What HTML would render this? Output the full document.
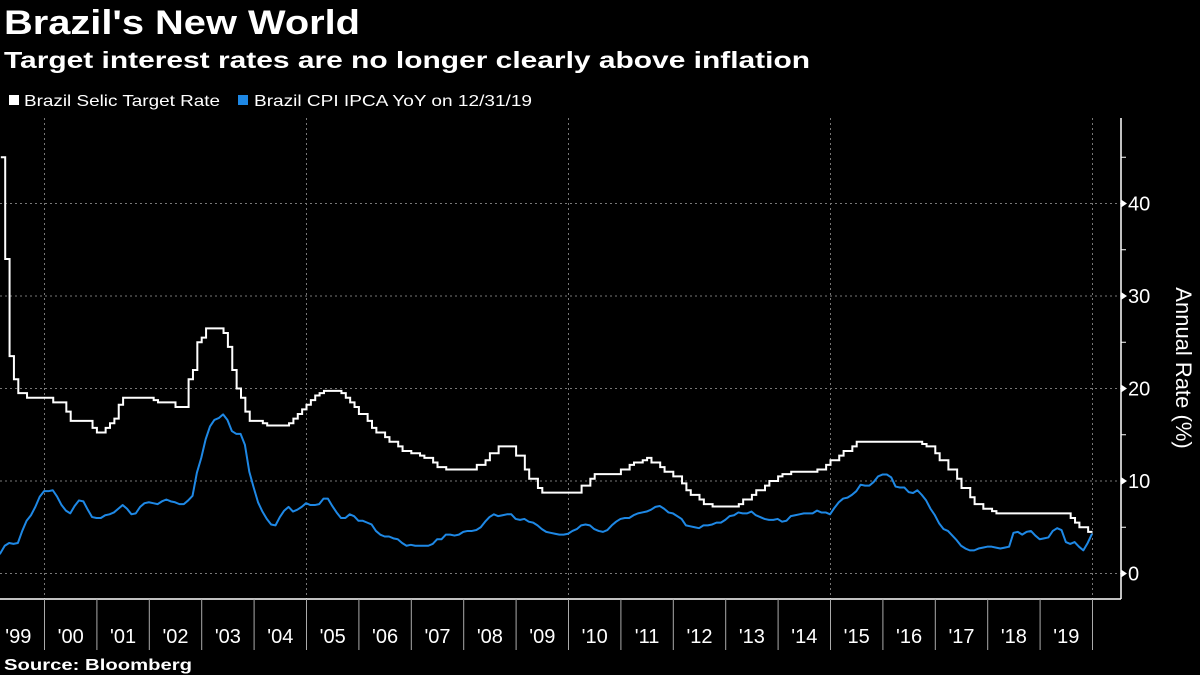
<!DOCTYPE html>
<html><head><meta charset="utf-8"><style>
body{margin:0;background:#000;width:1200px;height:675px;overflow:hidden;font-family:"Liberation Sans",sans-serif;color:#fff}
svg{position:absolute;left:0;top:0}
</style></head><body>
<svg id="c" width="1200" height="675">
<text x="4" y="34" font-size="34" font-weight="bold" fill="#fff" textLength="356" lengthAdjust="spacingAndGlyphs">Brazil's New World</text>
<text x="4" y="68" font-size="23" font-weight="bold" fill="#fff" textLength="806" lengthAdjust="spacingAndGlyphs">Target interest rates are no longer clearly above inflation</text>
<g>
<rect x="9" y="95" width="10" height="10" fill="#fff"/>
<text x="24" y="106" font-size="16" fill="#fff" textLength="196" lengthAdjust="spacingAndGlyphs">Brazil Selic Target Rate</text>
<rect x="238" y="95" width="10" height="10" fill="#1e88e5"/>
<text x="254" y="106" font-size="16" fill="#fff" textLength="278" lengthAdjust="spacingAndGlyphs">Brazil CPI IPCA YoY  on 12/31/19</text>
</g>
<text transform="translate(1176,368) rotate(90)" text-anchor="middle" font-size="22" fill="#fff">Annual Rate (%)</text>
<text x="4" y="670" font-size="16" font-weight="bold" fill="#fff" textLength="188" lengthAdjust="spacingAndGlyphs">Source: Bloomberg</text>
<g id="grid"></g><g id="axes"></g><g id="series"></g>
</svg>
<script>
const yTicks=[0,10,20,30,40];
const years=[1999,2000,2001,2002,2003,2004,2005,2006,2007,2008,2009,2010,2011,2012,2013,2014,2015,2016,2017,2018,2019];
const gridYears=[2000,2005,2010,2015,2020];
const selicStart=1999+2/12;
const selic=[45,34,23.5,21,19.5,19.5,19,19,19,19,
19,19,18.5,18.5,18.5,17.5,16.5,16.5,16.5,16.5,16.5,15.75,
15.25,15.25,15.75,16.25,16.75,18.25,19,19,19,19,19,19,
19,18.75,18.5,18.5,18.5,18.5,18,18,18,21,22,25,
25.5,26.5,26.5,26.5,26.5,26,24.5,22,20,19,17.5,16.5,
16.5,16.5,16.25,16,16,16,16,16,16.25,16.75,17.25,17.75,
18.25,18.75,19.25,19.5,19.75,19.75,19.75,19.75,19.5,19,18.5,18,
17.25,17.25,16.5,15.75,15.25,15.25,14.75,14.25,14.25,13.75,13.25,13.25,
13,13,12.75,12.5,12.5,12,11.5,11.5,11.25,11.25,11.25,11.25,
11.25,11.25,11.25,11.75,11.75,12.25,13,13,13.75,13.75,13.75,13.75,
12.75,12.75,11.25,10.25,10.25,9.25,8.75,8.75,8.75,8.75,8.75,8.75,
8.75,8.75,8.75,9.5,9.5,10.25,10.75,10.75,10.75,10.75,10.75,10.75,
11.25,11.25,11.75,12,12,12.25,12.5,12,12,11.5,11,11,
10.5,10.5,9.75,9,8.5,8.5,8,7.5,7.5,7.25,7.25,7.25,
7.25,7.25,7.25,7.5,8,8,8.5,9,9,9.5,10,10,
10.5,10.75,10.75,11,11,11,11,11,11,11.25,11.25,11.75,
12.25,12.25,12.75,13.25,13.25,13.75,14.25,14.25,14.25,14.25,14.25,14.25,
14.25,14.25,14.25,14.25,14.25,14.25,14.25,14.25,14.25,14,13.75,13.75,
13,12.25,12.25,11.25,11.25,10.25,9.25,9.25,8.25,7.5,7.5,7,
7,6.75,6.5,6.5,6.5,6.5,6.5,6.5,6.5,6.5,6.5,6.5,
6.5,6.5,6.5,6.5,6.5,6.5,6.5,6,5.5,5,5,4.5];
const ipcaStart=1999;
const ipca=[1.7,2.2,3.0,3.3,3.2,3.3,4.6,5.7,6.3,7.2,8.3,8.9,
8.9,9.0,8.3,7.4,6.8,6.5,7.3,7.9,7.8,6.9,6.1,6.0,
6.0,6.3,6.4,6.6,7.0,7.4,7.0,6.4,6.5,7.2,7.6,7.7,
7.6,7.5,7.8,8.0,7.8,7.7,7.5,7.5,7.9,8.4,10.9,12.5,
14.5,15.9,16.6,16.8,17.2,16.6,15.4,15.1,15.1,13.9,11.0,9.3,
7.7,6.7,5.9,5.3,5.2,6.1,6.8,7.2,6.7,6.9,7.2,7.6,
7.4,7.4,7.5,8.1,8.1,7.3,6.6,6.0,6.0,6.4,6.2,5.7,
5.7,5.5,5.3,4.6,4.2,4.0,4.0,3.8,3.7,3.3,3.0,3.1,
3.0,3.0,3.0,3.0,3.2,3.7,3.7,4.2,4.2,4.1,4.2,4.5,
4.6,4.6,4.7,5.0,5.6,6.1,6.4,6.2,6.3,6.4,6.4,5.9,
5.8,5.9,5.6,5.5,5.2,4.8,4.5,4.4,4.3,4.2,4.2,4.3,
4.6,4.8,5.2,5.3,5.2,4.8,4.6,4.5,4.7,5.2,5.6,5.9,
6.0,6.0,6.3,6.5,6.6,6.7,6.9,7.2,7.3,7.0,6.6,6.5,
6.2,5.9,5.2,5.1,5.0,4.9,5.2,5.2,5.3,5.5,5.5,5.8,
6.2,6.3,6.6,6.5,6.5,6.7,6.3,6.1,5.9,5.8,5.8,5.9,
5.6,5.7,6.2,6.3,6.4,6.5,6.5,6.5,6.8,6.6,6.6,6.4,
7.1,7.7,8.1,8.2,8.5,8.9,9.6,9.5,9.5,9.9,10.5,10.7,
10.7,10.4,9.4,9.3,9.3,8.8,8.7,9.0,8.5,7.9,7.0,6.3,
5.4,4.8,4.6,4.1,3.6,3.0,2.7,2.5,2.5,2.7,2.8,2.9,
2.9,2.8,2.7,2.8,2.9,4.4,4.5,4.2,4.5,4.6,4.1,3.7,
3.8,3.9,4.6,4.9,4.7,3.4,3.2,3.4,2.9,2.5,3.3,4.3];
const NS='http://www.w3.org/2000/svg';
const X=t=>44.5+(t-2000)*52.4;
const Y=v=>573.5-v*9.25;
function mk(tag,attrs,parent){const e=document.createElementNS(NS,tag);for(const k in attrs)e.setAttribute(k,attrs[k]);document.getElementById(parent).appendChild(e);return e;}
yTicks.forEach(v=>{
 const l=mk('line',{x1:0,x2:1121,y1:Y(v),y2:Y(v),stroke:'#777','stroke-width':1,'stroke-dasharray':'2,3'},'grid');
 
 
});
gridYears.forEach(yr=>{
 const l=mk('line',{x1:X(yr),x2:X(yr),y1:118,y2:599,stroke:'#777','stroke-width':1,'stroke-dasharray':'2,3'},'grid');
 
 
});
const ya=mk('line',{x1:1121,x2:1121,y1:118,y2:599,stroke:'#fff','stroke-width':1.5},'axes');


const xa=mk('line',{x1:0,x2:1121,y1:599,y2:599,stroke:'#fff','stroke-width':1.5},'axes');


for(let v=5;v<=45;v+=10){
 const t=mk('line',{x1:1121,x2:1126,y1:Y(v),y2:Y(v),stroke:'#fff'},'axes');
 
 
}
yTicks.forEach(v=>{
 const p=mk('polygon',{points:`1121,${Y(v)-4} 1127,${Y(v)} 1121,${Y(v)+4}`,fill:'#fff'},'axes');
 
 
 const t=mk('text',{x:1128,y:Y(v)+7,'font-size':20,fill:'#fff'},'axes');
 t.textContent=v;
 
 
});
years.forEach(yr=>{
 if(yr>1999){const s=mk('line',{x1:X(yr),x2:X(yr),y1:599,y2:650,stroke:'#aaa'},'axes');
 
 }
 const t=mk('text',{x:X(yr+0.5),y:643,'font-size':20,fill:'#fff','text-anchor':'middle'},'axes');
 t.textContent="'"+String(yr).slice(2);
 
 
});
const s2=mk('line',{x1:X(2020),x2:X(2020),y1:599,y2:650,stroke:'#aaa'},'axes');


let d='';
selic.forEach((v,i)=>{const x0=X(selicStart+i/12),x1=X(selicStart+(i+1)/12);d+=(i?'L':'M')+x0+','+Y(v)+'L'+x1+','+Y(v);});
const sp=mk('path',{d:d,fill:'none',stroke:'#fff','stroke-width':2},'series');


let d2='';
ipca.forEach((v,i)=>{d2+=(i?'L':'M')+X(ipcaStart+(i+0.9)/12)+','+Y(v);});
const ip=mk('path',{d:d2,fill:'none',stroke:'#1e88e5','stroke-width':2,'stroke-linejoin':'round'},'series');


</script>
</body></html>
